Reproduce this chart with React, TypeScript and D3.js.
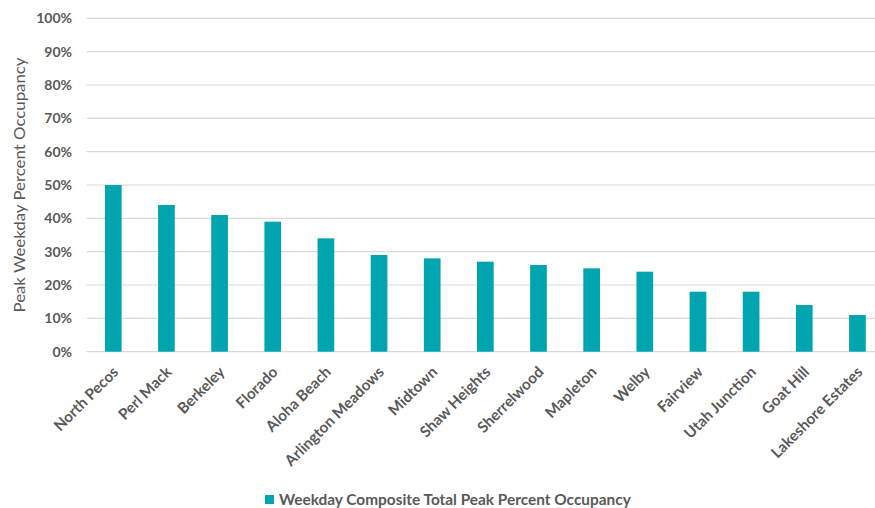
import React from "react";
import * as d3 from "d3";

const categories = [
  "North Pecos", "Perl Mack", "Berkeley", "Florado", "Aloha Beach",
  "Arlington Meadows", "Midtown", "Shaw Heights", "Sherrelwood", "Mapleton",
  "Welby", "Fairview", "Utah Junction", "Goat Hill", "Lakeshore Estates",
];
const occupancy = [0.50, 0.44, 0.41, 0.39, 0.34, 0.29, 0.28, 0.27, 0.26, 0.25, 0.24, 0.18, 0.18, 0.14, 0.11];
const yTicks = [0, 0.1, 0.2, 0.3, 0.4, 0.5, 0.6, 0.7, 0.8, 0.9, 1.0];
const seriesName = "Weekday Composite Total Peak Percent Occupancy";
const yTitle = "Peak Weekday Percent Occupancy";

const W = 875, H = 508;
const FONT = "Lato, 'Open Sans', sans-serif";
const TXT = "#595959";
const BAR = "#00A5B0";

export default function App() {
  const plotLeft = 86.7, plotRight = 884, plotTop = 18.3, plotBottom = 351.7;
  const x = d3.scaleBand<string>().domain(categories).range([plotLeft, plotRight]).paddingInner(0.686).paddingOuter(0.343);
  const y = d3.scaleLinear().domain([0, 1]).range([plotBottom, plotTop]);
  const fmt = d3.format(".0%");
  return (
    <svg width={W} height={H} style={{ position: "absolute", left: 0, top: 0, background: "#fff" }} fontFamily={FONT}>
      <rect width={W} height={H} fill="#fff" />
      {yTicks.map((t) => (
        <g key={t}>
          <line x1={plotLeft} x2={W} y1={y(t)} y2={y(t)} stroke="#d9d9d9" strokeWidth={1.2} />
          <text x={72} y={y(t)} dy="0.36em" textAnchor="end" fontSize={14} fontWeight="bold" fill={TXT}>{fmt(t)}</text>
        </g>
      ))}
      {categories.map((c, i) => (
        <rect key={c} x={x(c)} y={y(occupancy[i])} width={x.bandwidth()} height={plotBottom - y(occupancy[i])} fill={BAR} />
      ))}
      {categories.map((c) => {
        const cx = (x(c) as number) + x.bandwidth() / 2 + 6;
        return (
          <text key={c} transform={`translate(${cx},${373}) rotate(-45)`} textAnchor="end" fontSize={15.2} fontWeight="bold" fill={TXT}>{c}</text>
        );
      })}
      <text transform={`translate(25,${185}) rotate(-90)`} textAnchor="middle" fontSize={15.5} textLength={255} lengthAdjust="spacingAndGlyphs" fill={TXT}>{yTitle}</text>
      <rect x={265} y={495} width={9} height={9} fill={BAR} />
      <text x={279} y={505} fontSize={15.4} fontWeight="bold" fill={TXT}>{seriesName}</text>
    </svg>
  );
}
